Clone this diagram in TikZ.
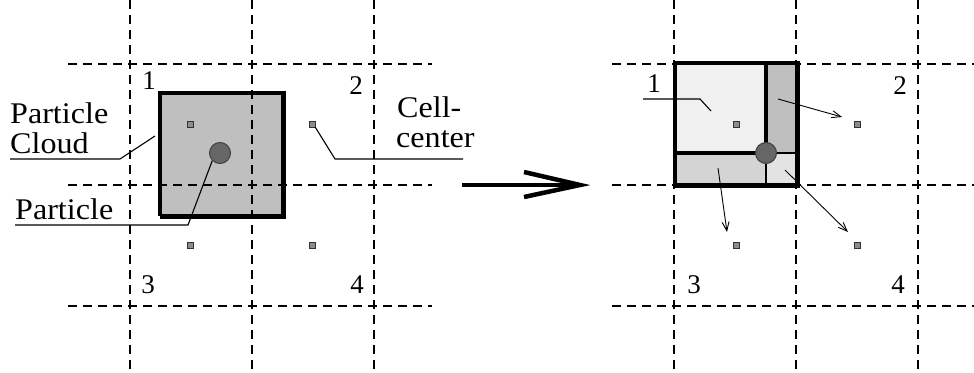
\documentclass[tikz,border=0pt]{standalone}
\usepackage{fontspec}
\setmainfont{Liberation Serif}
\usetikzlibrary{arrows.meta}
\newcommand{\wide}[1]{\scalebox{1.07}[1]{#1}}
\tikzset{
  grid/.style={dash pattern=on 9pt off 6pt, line width=1.5pt},
  lbl/.style={anchor=base west, inner sep=0pt, font=\fontsize{30}{32}\selectfont},
  num/.style={anchor=base, inner sep=0pt, font=\fontsize{27}{30}\selectfont},
  leader/.style={line width=1.1pt},
  cc/.style={draw=black!80, fill=black!45, line width=0.8pt, minimum size=6pt, inner sep=0pt, rectangle},
  part/.style={circle, draw=black!75, fill=black!60, line width=1pt, minimum size=21pt, inner sep=0pt},
  moveto/.style={line width=0.9pt, -{Straight Barb[length=9pt,width=7pt]}},
}
\begin{document}
\begin{tikzpicture}[x=1pt,y=-1pt]
\useasboundingbox (0,0) rectangle (974,372);
% ---------- left ----------
\fill[black!25] (160,93) rectangle (283,216);
\draw[line width=3.5pt] (283,93) -- (160,93) -- (160,216);
\draw[line width=5pt] (160,216) -- (283,216) -- (283,91);
\foreach \x in {130,252,374} \draw[grid] (\x,0) -- (\x,372);
\foreach \y in {64,185,306} \draw[grid] (68,\y) -- (432,\y);
\node[cc] (l1) at (190,124) {};
\node[cc] (l2) at (312,124) {};
\node[cc] (l3) at (190,245) {};
\node[cc] (l4) at (312,245) {};
\node[part] (lp) at (220,153) {};
\node[num] (n1) at (149,89) {1};
\node[num] (n2) at (356,94) {2};
\node[num] (n3) at (148,293) {3};
\node[num] (n4) at (357,293) {4};
\node[lbl] (pc1) at (10,123) {\wide{Particle}};
\node[lbl] (pc2) at (10,153) {\wide{Cloud}};
\node[lbl] (pa) at (15,219) {\wide{Particle}};
\node[lbl] (ce1) at (397,117) {\wide{Cell-}};
\node[lbl] (ce2) at (396,147) {\wide{center}};
\coordinate (pcA) at (10,159); \coordinate (pcB) at (120,159); \coordinate (pcC) at (155,136);
\draw[leader] (pcA) -- (pcB) -- (pcC);
\coordinate (paA) at (15,225); \coordinate (paB) at (188,225);
\draw[leader] (paA) -- (paB) -- (lp.south west);
\coordinate (ceA) at (463,159); \coordinate (ceB) at (335,159);
\draw[leader] (ceA) -- (ceB) -- (l2.south east);
% ---------- big arrow ----------
\coordinate (bA) at (462,185); \coordinate (bT) at (580,185);
\coordinate (bU) at (524,172); \coordinate (bD) at (524,197);
\draw[line width=4pt] (bA) -- (574,185);
\draw[line width=4.5pt, line join=miter] (bU) -- (bT) -- (bD);
% ---------- right ----------
\foreach \x in {674,796,918} \draw[grid] (\x,0) -- (\x,372);
\foreach \y in {64,185,306} \draw[grid] (612,\y) -- (974,\y);
\fill[black!6] (675,63) rectangle (766,153);
\fill[black!25] (766,63) rectangle (797,153);
\fill[black!17] (675,153) rectangle (766,185);
\fill[black!11] (766,153) rectangle (797,185);
\draw[line width=4pt] (766,63) -- (766,153) -- (675,153);
\draw[line width=2pt] (766,153) -- (766,185);
\draw[line width=2pt] (766,153) -- (797,153);
\draw[line width=4pt] (797,63) -- (675,63) -- (675,185);
\draw[line width=5pt] (675,185) -- (797,185) -- (797,61);
\node[part] (rp) at (766,153) {};
\node[cc] (r1) at (736,124) {};
\node[cc] (r2) at (857,124) {};
\node[cc] (r3) at (736,245) {};
\node[cc] (r4) at (857,245) {};
\node[num] (m1) at (654,92) {1};
\node[num] (m2) at (900,94) {2};
\node[num] (m3) at (694,293) {3};
\node[num] (m4) at (898,293) {4};
\coordinate (mA) at (643,99); \coordinate (mB) at (700,99); \coordinate (mC) at (711,111);
\draw[leader] (mA) -- (mB) -- (mC);
\coordinate (s2) at (778,99); \coordinate (e2) at (842,117);
\coordinate (s3) at (718,168); \coordinate (e3) at (727,232);
\coordinate (s4) at (785,170); \coordinate (e4) at (848,232);
\draw[moveto] (s2) -- (e2);
\draw[moveto] (s3) -- (e3);
\draw[moveto] (s4) -- (e4);
\end{tikzpicture}
\end{document}
